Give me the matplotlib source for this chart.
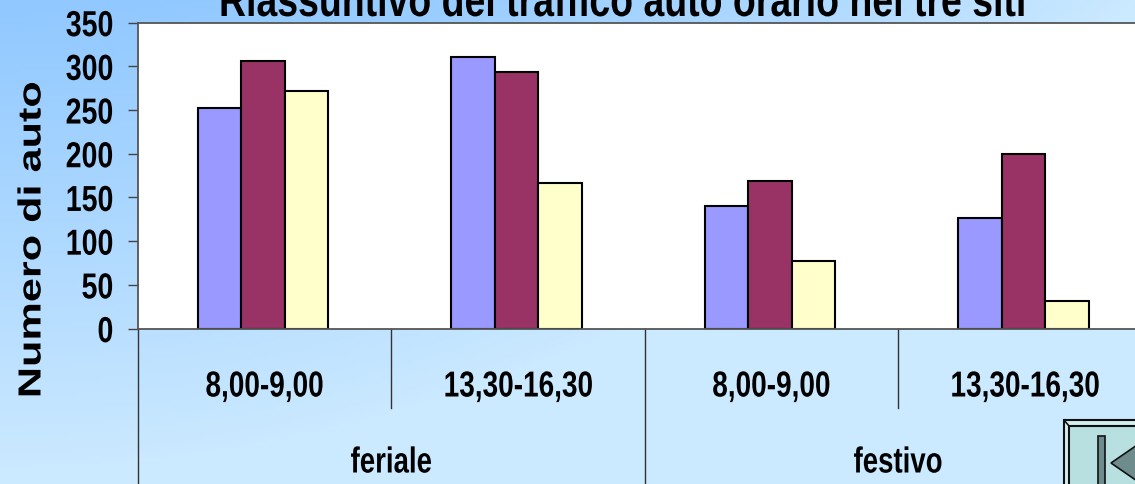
import matplotlib
matplotlib.use('Agg')
import matplotlib.pyplot as plt
import matplotlib.colors as mcolors
import matplotlib.patheffects as pe
import numpy as np
from matplotlib.patches import Polygon, Rectangle
from matplotlib.transforms import Affine2D, blended_transform_factory

# Values
HOURS = ['8,00-9,00', '13,30-16,30', '8,00-9,00', '13,30-16,30']
DAYS = ['feriale', 'festivo']
SITE_1 = [252, 311, 140, 126]
SITE_2 = [306, 293, 169, 200]
SITE_3 = [272, 166, 77, 31]
SITE_COLORS = ['#9999ff', '#993366', '#ffffcc']
Y_TICKS = [0, 50, 100, 150, 200, 250, 300, 350]

W, H = 1135, 485
FONT = 'Liberation Sans'


class Stretch(pe.AbstractPathEffect):
    # squeeze or widen a text along its baseline, the original is stretched
    def __init__(self, sx, anchor=0.5):
        super().__init__()
        self.sx = sx
        self.anchor = anchor

    def draw_path(self, renderer, gc, tpath, affine, rgbFace=None):
        box = tpath.get_extents()
        x0 = box.x0 + box.width * self.anchor
        squeeze = Affine2D().translate(-x0, 0).scale(self.sx, 1).translate(x0, 0)
        renderer.draw_path(gc, tpath, squeeze + affine, rgbFace)


fig = plt.figure(figsize=(W / 100, H / 100), dpi=100)

# background gradient, darker in the top left corner
bg = fig.add_axes([0, 0, 1, 1], zorder=0)
bg.axis('off')
xx, yy = np.meshgrid(np.linspace(0, 1, 300), np.linspace(0, 1, 150))
amount = np.clip(yy * 1.03 + xx ** 2, 0, 1)
cmap = mcolors.LinearSegmentedColormap.from_list('bg', ['#90c8ff', '#cbe9ff'])
bg.imshow(amount, cmap=cmap, vmin=0, vmax=1, aspect='auto', origin='upper')

# axes run past the right edge of the image, like the original
left, top, bottom = 138, 23.6, 329.6
group_w = 253.4
span = bottom - top
ax = fig.add_axes([left / W, 1 - bottom / H, group_w * 4 / W, span / H], zorder=1)
ax.set_xlim(0, 4)
ax.set_ylim(0, 350)

x = np.arange(4) + 0.494
bar_w = 0.1717
for i, values in enumerate([SITE_1, SITE_2, SITE_3]):
    ax.bar(x + (i - 1) * bar_w, values, bar_w, color=SITE_COLORS[i],
           edgecolor='black', linewidth=1.5, zorder=3)

ax.spines['right'].set_visible(False)
for side in ['top', 'left', 'bottom']:
    ax.spines[side].set_color('#555555')
    ax.spines[side].set_linewidth(1.3)
ax.spines['bottom'].set_zorder(4)

ax.set_yticks(Y_TICKS)
ax.tick_params(axis='y', length=7.5, width=1.0, color='#444444', pad=10)
for t in ax.get_yticklabels():
    t.set_family(FONT)
    t.set_fontweight('bold')
    t.set_fontsize(26)
    t.set_path_effects([Stretch(0.79, anchor=1)])
ax.set_xticks([])

# two level category axis
trans = blended_transform_factory(ax.transData, ax.transAxes)
depth_short = -(409 - bottom) / span
depth_long = -(H - bottom) / span
for pos, depth in [(0, depth_long), (1, depth_short), (2, depth_long), (3, depth_short)]:
    ax.plot([pos, pos], [0, depth], color='#333333', lw=1.0, transform=trans, clip_on=False)

for pos, label in zip(np.arange(4) + 0.5, HOURS):
    ax.text(pos, -(388 - bottom) / span, label, transform=trans, ha='center', va='center',
            family=FONT, fontweight='bold', fontsize=26, clip_on=False,
            path_effects=[Stretch(0.775)])
for pos, label in zip([1, 3], DAYS):
    ax.text(pos, -(464 - bottom) / span, label, transform=trans, ha='center', va='center',
            family=FONT, fontweight='bold', fontsize=26, clip_on=False,
            path_effects=[Stretch(0.765)])

fig.text(623 / W, 1 - 17 / H, 'Riassuntivo del traffico auto orario nei tre siti',
         ha='center', va='baseline', family=FONT, fontweight='bold', fontsize=34,
         path_effects=[Stretch(0.793)])
fig.text(32.5 / W, 1 - 240.5 / H, 'Numero di auto', rotation=90, ha='center', va='center',
         family=FONT, fontweight='bold', fontsize=23, path_effects=[Stretch(1.353)])

# back button in the bottom right corner, in pixel coordinates
btn = fig.add_axes([0, 0, 1, 1], zorder=2)
btn.set_xlim(0, W)
btn.set_ylim(H, 0)
btn.axis('off')
btn.add_patch(Rectangle((1064, 421), 90, 90, fc='#d5eeee', ec='#111111', lw=1.5))
btn.add_patch(Rectangle((1069, 427), 90, 90, fc='#b9e0e0', ec='#111111', lw=1.5))
btn.plot([1064, 1069], [421, 427], color='#111111', lw=1.2)
btn.add_patch(Rectangle((1098, 437), 7, 60, fc='#6f8c8c', ec='#111111', lw=1.2))
btn.add_patch(Polygon([(1111, 464), (1140, 444), (1140, 484)], fc='#6f8c8c', ec='#111111', lw=1.2))

fig.savefig('out.png', dpi=100)
